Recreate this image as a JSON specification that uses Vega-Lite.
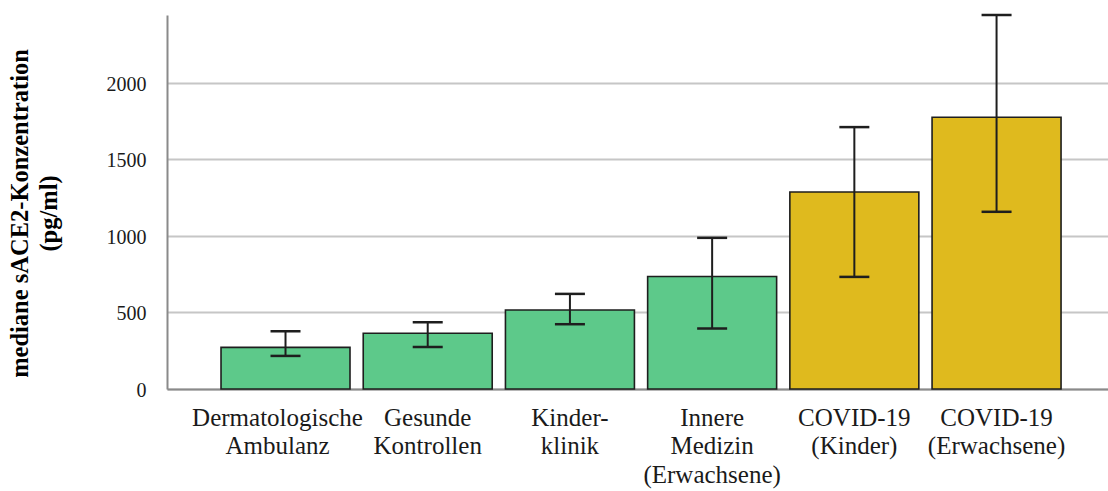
{
  "$schema": "https://vega.github.io/schema/vega-lite/v6.json",
  "autosize": {"type": "none"},
  "padding": {"left": 167, "top": 15, "right": 0, "bottom": 102},
  "width": 941,
  "height": 374,
  "background": "white",
  "config": {"view": {"stroke": null}, "font": "Liberation Serif"},
  "data": {"values": [
    {"Gruppe": "Dermatologische|Ambulanz", "Typ": "Kontrolle", "Median": 272, "Unten": 216, "Oben": 377},
    {"Gruppe": "Gesunde|Kontrollen", "Typ": "Kontrolle", "Median": 364, "Unten": 275, "Oben": 436},
    {"Gruppe": "Kinder-|klinik", "Typ": "Kontrolle", "Median": 516, "Unten": 423, "Oben": 621},
    {"Gruppe": "Innere|Medizin|(Erwachsene)", "Typ": "Kontrolle", "Median": 735, "Unten": 395, "Oben": 987},
    {"Gruppe": "COVID-19|(Kinder)", "Typ": "COVID-19", "Median": 1286, "Unten": 732, "Oben": 1710},
    {"Gruppe": "COVID-19|(Erwachsene)", "Typ": "COVID-19", "Median": 1774, "Unten": 1157, "Oben": 2442}
  ]},
  "encoding": {
    "x": {
      "field": "Gruppe", "type": "nominal", "sort": null,
      "scale": {"paddingInner": 0.093, "paddingOuter": 0.355, "align": 0.535},
      "axis": {
        "title": null,
        "labelAngle": 0,
        "labelExpr": "split(datum.label, '|')",
        "labelFont": "Liberation Serif",
        "labelFontSize": 25,
        "labelLineHeight": 28.5,
        "labelColor": "#1a1a1a",
        "labelBaseline": "top",
        "labelPadding": 16,
        "labelLimit": 0,
        "labelOffset": {"condition": {"test": "datum.value === 'Dermatologische|Ambulanz'", "value": -8}, "value": 0},
        "ticks": false,
        "tickSize": 0,
        "domainColor": "#8a8a8a",
        "domainWidth": 2,
        "grid": false
      }
    }
  },
  "layer": [
    {
      "mark": {"type": "bar", "stroke": "#1e1e1e", "strokeWidth": 1.6, "opacity": 1},
      "encoding": {
        "y": {
          "field": "Median", "type": "quantitative",
          "scale": {"domain": [0, 2442], "nice": false, "zero": true},
          "axis": {
            "values": [0, 500, 1000, 1500, 2000],
            "format": "d",
            "title": ["mediane sACE2-Konzentration", "(pg/ml)"],
            "titleFont": "Liberation Serif",
            "titleFontSize": 24.5,
            "titleFontWeight": "bold",
            "titleColor": "#000000",
            "titleLineHeight": 29,
            "titleAngle": -90,
            "titleAlign": "center",
            "titleBaseline": "bottom",
            "titleX": -135,
            "titleY": 198,
            "labelFont": "Liberation Serif",
            "labelFontSize": 20,
            "labelColor": "#1a1a1a",
            "labelPadding": 21,
            "labelOffset": 1.5,
            "ticks": false,
            "tickSize": 0,
            "domainColor": "#8a8a8a",
            "domainWidth": 2,
            "gridColor": "#c6c6c6",
            "gridWidth": 2
          }
        },
        "color": {
          "field": "Typ", "type": "nominal",
          "scale": {"domain": ["Kontrolle", "COVID-19"], "range": ["#5DC98A", "#DFBA1E"]},
          "legend": null
        }
      }
    },
    {
      "mark": {"type": "rule", "color": "#1e1e1e", "strokeWidth": 2, "opacity": 1},
      "encoding": {
        "y": {"field": "Unten", "type": "quantitative"},
        "y2": {"field": "Oben"}
      }
    },
    {
      "mark": {"type": "tick", "color": "#1e1e1e", "thickness": 2.5, "size": 30, "opacity": 1},
      "encoding": {"y": {"field": "Oben", "type": "quantitative"}}
    },
    {
      "mark": {"type": "tick", "color": "#1e1e1e", "thickness": 2.5, "size": 30, "opacity": 1},
      "encoding": {"y": {"field": "Unten", "type": "quantitative"}}
    }
  ]
}
